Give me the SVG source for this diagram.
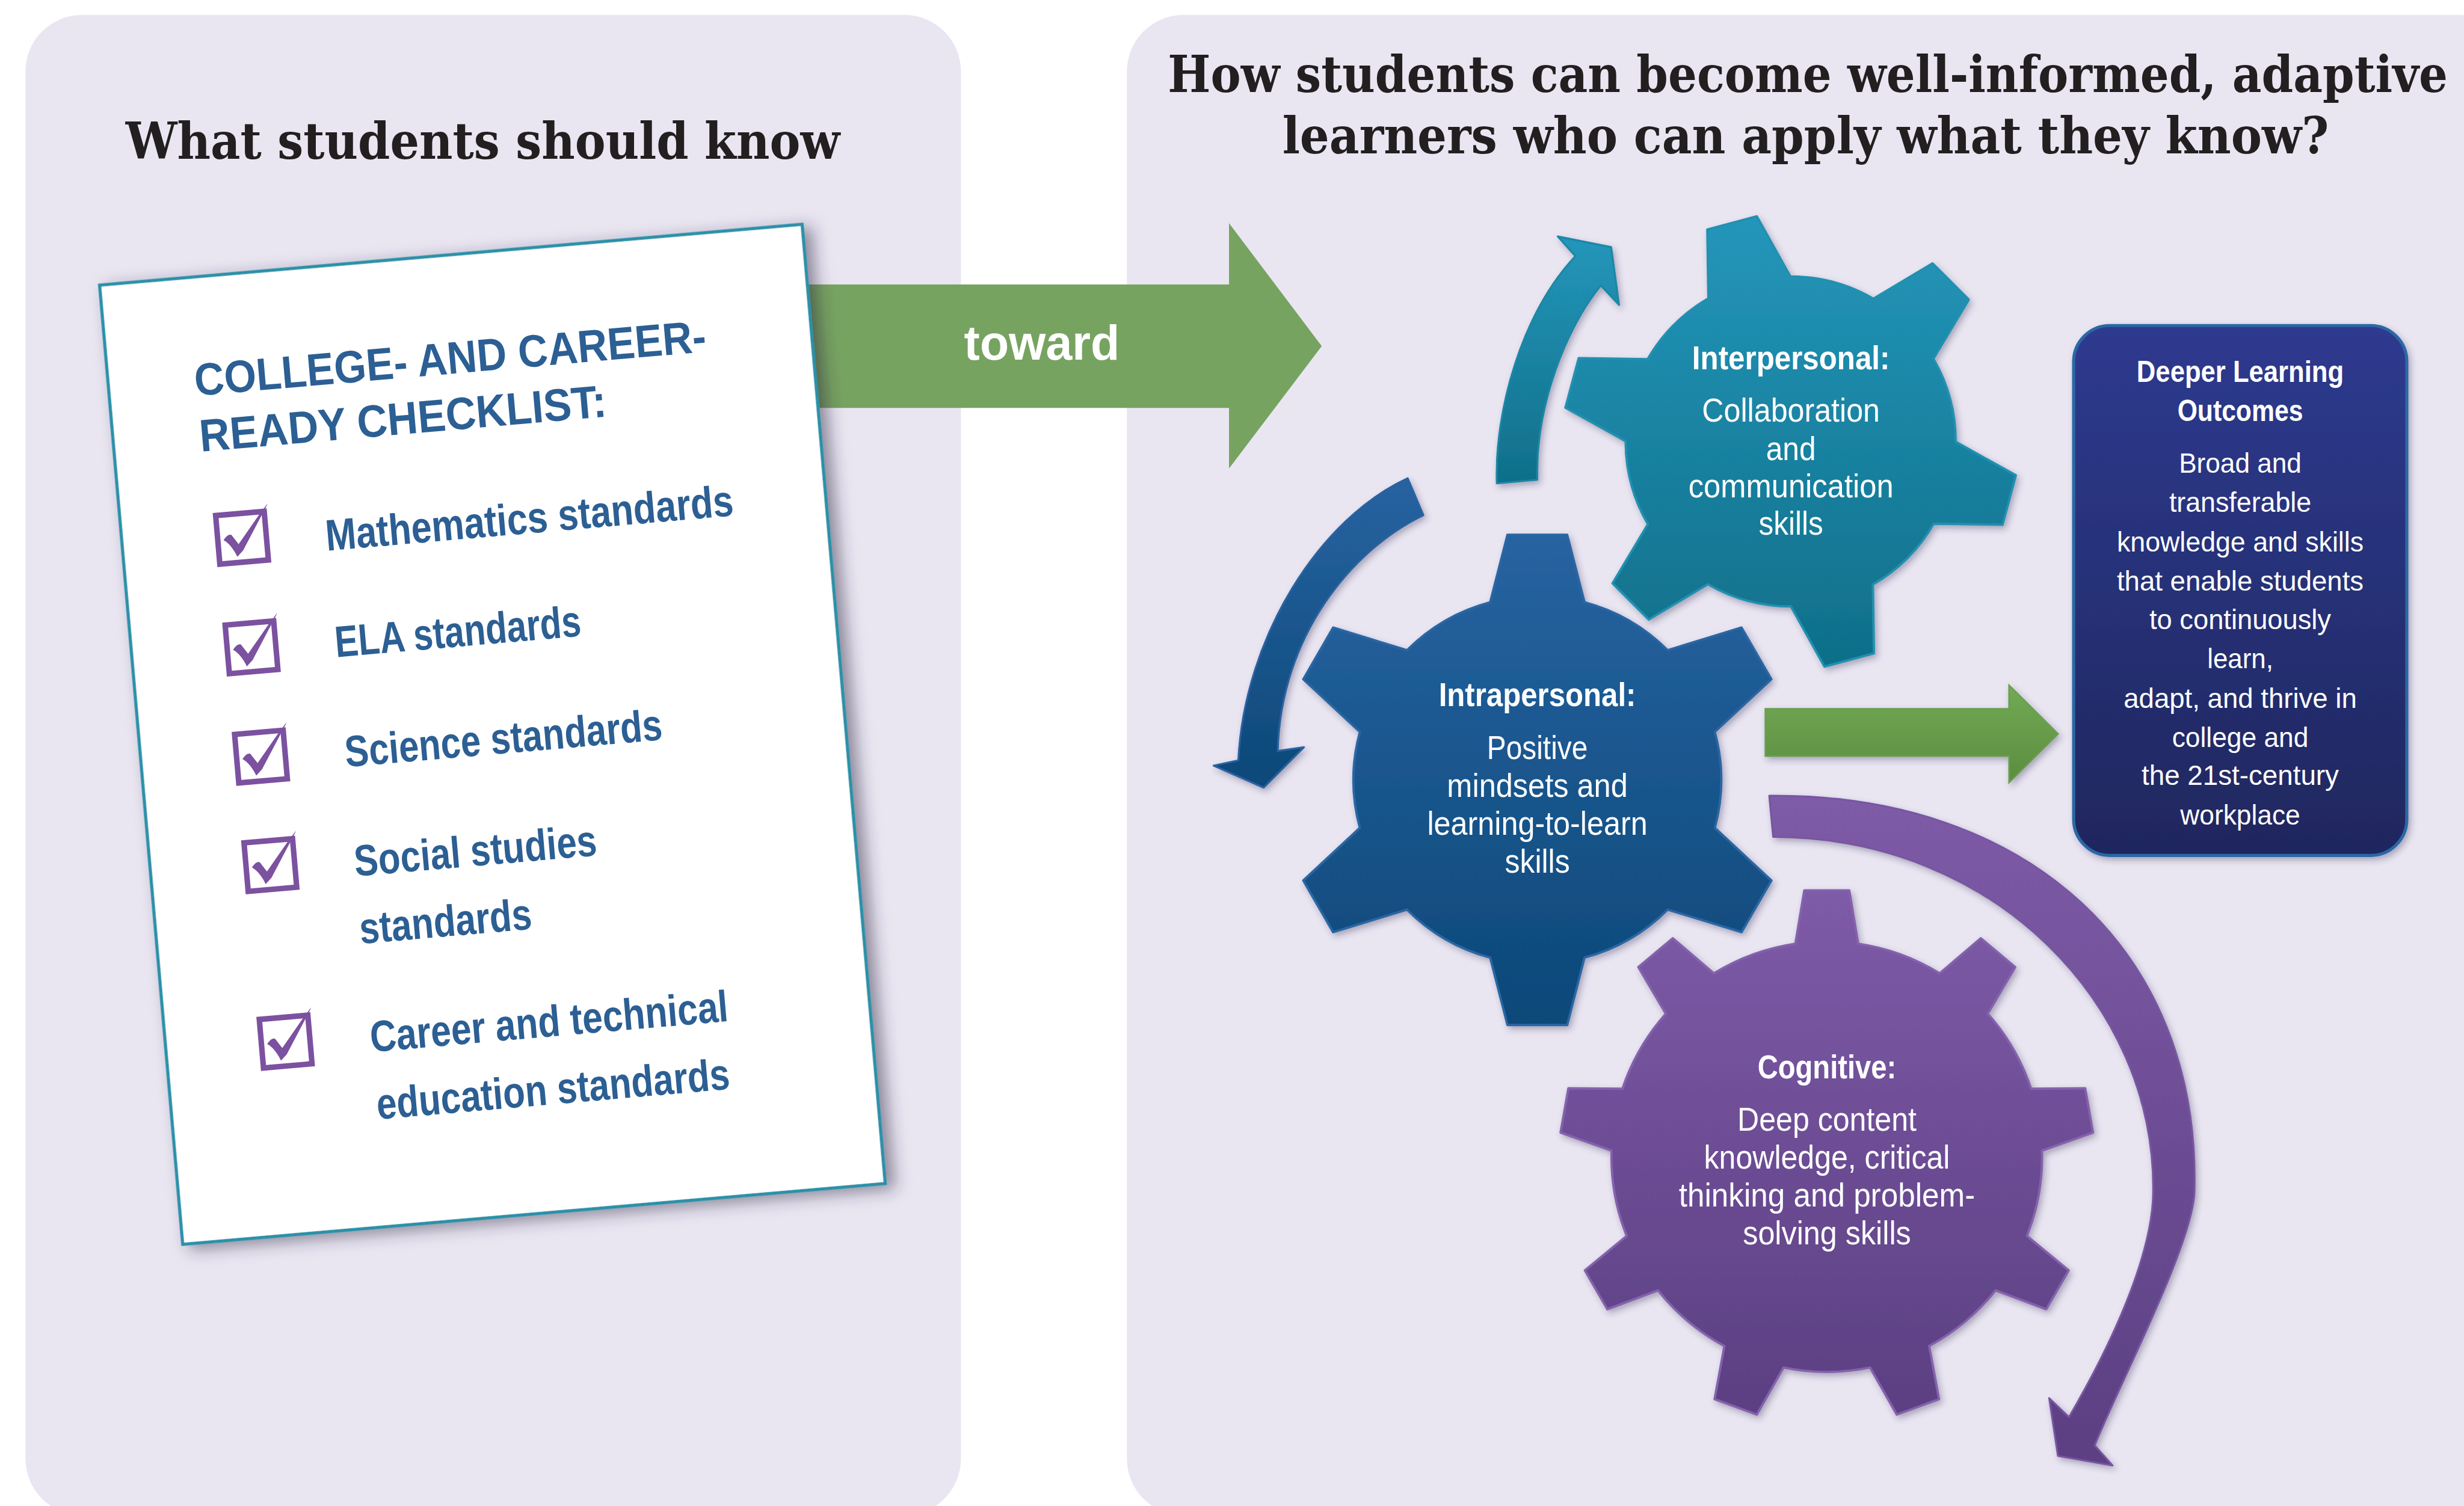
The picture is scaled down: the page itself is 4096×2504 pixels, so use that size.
<svg xmlns="http://www.w3.org/2000/svg" width="4096" height="2504" viewBox="0 0 4096 2504">
  <defs>
    <style>
      .panel { fill: #e9e6f2; }
      .ttl { font-family: "DejaVu Serif", "Liberation Serif", serif; font-weight: bold; font-size: 32.5px; fill: #231f20; text-anchor: middle; }
      .chk { font-family: "Liberation Sans", Arial, sans-serif; font-weight: bold; fill: #2c5f93; font-size: 28px; }
      .chkh { font-family: "Liberation Sans", Arial, sans-serif; font-weight: bold; fill: #2c5f93; font-size: 29px; }
      .box { fill: none; stroke: #7b51a0; stroke-width: 3.5px; }
      .tick { fill: #7b51a0; }
      .gh { font-family: "Liberation Sans Narrow", "Liberation Sans", Arial, sans-serif; font-weight: bold; fill: #ffffff; font-size: 21px; text-anchor: middle; }
      .gt { font-family: "Liberation Sans Narrow", "Liberation Sans", Arial, sans-serif; fill: #ffffff; font-size: 21px; text-anchor: middle; }
      .dh { font-family: "Liberation Sans Narrow", "Liberation Sans", Arial, sans-serif; font-weight: bold; fill: #ffffff; font-size: 19px; text-anchor: middle; }
      .dt { font-family: "Liberation Sans", Arial, sans-serif; fill: #ffffff; font-size: 18px; text-anchor: middle; }
      .toward { font-family: "Liberation Sans", Arial, sans-serif; font-weight: bold; fill: #ffffff; font-size: 31px; text-anchor: middle; }
    </style>
    <linearGradient id="gTeal" x1="0" y1="0" x2="0" y2="1">
      <stop offset="0" stop-color="#2496ba"/>
      <stop offset="1" stop-color="#0f6f89"/>
    </linearGradient>
    <linearGradient id="gBlue" x1="0" y1="0" x2="0" y2="1">
      <stop offset="0" stop-color="#2763a1"/>
      <stop offset="1" stop-color="#0c4878"/>
    </linearGradient>
    <linearGradient id="gPurple" x1="0" y1="0" x2="0" y2="1">
      <stop offset="0" stop-color="#7e5ba7"/>
      <stop offset="1" stop-color="#5b3f82"/>
    </linearGradient>
    <linearGradient id="gGreen" x1="0" y1="0" x2="0" y2="1">
      <stop offset="0" stop-color="#72aa55"/>
      <stop offset="1" stop-color="#5c8c3f"/>
    </linearGradient>
    <linearGradient id="gNavy" x1="0" y1="0" x2="0" y2="1">
      <stop offset="0" stop-color="#2e3a8f"/>
      <stop offset="1" stop-color="#1f275e"/>
    </linearGradient>
    <filter id="paperShadow" x="-10%" y="-10%" width="130%" height="130%">
      <feDropShadow dx="5" dy="3" stdDeviation="5" flood-color="#2e2840" flood-opacity="0.5"/>
    </filter>
    <filter id="soft" x="-10%" y="-10%" width="130%" height="130%">
      <feDropShadow dx="1.5" dy="2" stdDeviation="2" flood-color="#302850" flood-opacity="0.35"/>
    </filter>
    <g id="checkbox">
      <rect class="box" x="-15.5" y="-15.5" width="31" height="31"/>
      <path class="tick" d="M -11.8,0.6 C -10,-2 -8,-3 -6.6,-2.4 L -2.5,3.9 L 11.8,-13.3 L 18.1,-20.4 L 17.4,-19 L 0,8.1 L -4,11.8 C -5.5,8 -8,3 -11.8,0.6 Z"/>
    </g>
  </defs>

  <rect width="4096" height="2504" fill="#ffffff"/>

  <g transform="scale(2.612245)">
    <!-- background panels -->
    <rect id="panel-left" class="panel" x="16.2" y="9.5" width="595.3" height="955" rx="36" ry="36"/>
    <rect id="panel-right" class="panel" x="717.1" y="9.5" width="883" height="955" rx="36" ry="36"/>

    <!-- headings, set in a horizontally narrowed serif -->
    <g transform="scale(0.78,1)">
      <text id="title-left" class="ttl" x="393.85" y="101" textLength="582.7" lengthAdjust="spacingAndGlyphs">What students should know</text>
      <g id="title-right">
        <text class="ttl" x="1474.87" y="58.4" textLength="1044.2" lengthAdjust="spacingAndGlyphs">How students can become well-informed, adaptive</text>
        <text class="ttl" x="1473.08" y="97.6" textLength="853.8" lengthAdjust="spacingAndGlyphs">learners who can apply what they know?</text>
      </g>
    </g>

    <!-- connectors -->
    <g id="connectors">
      <g id="arrow-toward">
        <path d="M 500,181.1 H 782.1 V 142 L 841.1,220.3 L 782.1,298.2 V 259.6 H 500 Z" fill="#77a361"/>
        <text class="toward" x="663" y="228.9" textLength="99" lengthAdjust="spacingAndGlyphs">toward</text>
      </g>
      <path id="arrow-teal" filter="url(#soft)" fill="url(#gTeal)" stroke="#1c87a6" stroke-width="1.2" stroke-linejoin="round"
        d="M 952.5,307.7 C 951,262 968,200 1002.5,163 L 991.3,150.5 L 1025.3,157.3 L 1030.3,194.1 L 1018.7,181.7 C 997,208 977,258 978.3,305.4 Z"/>
      <path id="arrow-blue" filter="url(#soft)" fill="url(#gBlue)" stroke="#2a62a0" stroke-width="1.2" stroke-linejoin="round"
        d="M 895.8,304.4 C 840,330 792,405 788,484 L 772.3,487.3 L 804.1,501.3 L 829.8,475.6 L 813.1,478 C 815,405 860,350 905.8,327.9 Z"/>
      <path id="arrow-purple" filter="url(#soft)" fill="url(#gPurple)" stroke="#7857a2" stroke-width="1.2" stroke-linejoin="round"
        d="M 1125.9,506.5 C 1290,505 1400,605 1396.5,757.3 C 1396.5,790 1349,880 1333,920 L 1344.4,932.8 L 1309.6,926.7 L 1304,889.9 L 1316.6,902 C 1347,850 1370.5,795 1370.2,757.3 C 1371,640 1270,533 1128.4,532.7 Z"/>
      <path id="arrow-green" filter="url(#soft)" fill="url(#gGreen)" stroke="#6a9f4f" stroke-width="1"
        d="M 1123.4,451.2 H 1278.5 V 436.2 L 1309.7,467.1 L 1278.5,498.1 V 481.3 H 1123.4 Z"/>
    </g>

    <!-- checklist sheet -->
    <g id="checklist" transform="translate(63.4,181.5) rotate(-4.95)">
      <rect x="0" y="0" width="448.7" height="612.8" fill="#ffffff" stroke="#2990a8" stroke-width="2" filter="url(#paperShadow)"/>
      <text class="chkh" x="54.8" y="75.5" textLength="326.7" lengthAdjust="spacingAndGlyphs">COLLEGE- AND CAREER-</text>
      <text class="chkh" x="55" y="111.2" textLength="259.8" lengthAdjust="spacingAndGlyphs">READY CHECKLIST:</text>
      <use href="#checkbox" x="76.4" y="168"/>
      <use href="#checkbox" x="76.4" y="238"/>
      <use href="#checkbox" x="76.4" y="307.8"/>
      <use href="#checkbox" x="76.4" y="377.1"/>
      <use href="#checkbox" x="76.4" y="489.9"/>
      <text class="chk" x="129.4" y="180.9" textLength="260.4" lengthAdjust="spacingAndGlyphs">Mathematics standards</text>
      <text class="chk" x="129.5" y="248.9" textLength="157.1" lengthAdjust="spacingAndGlyphs">ELA standards</text>
      <text class="chk" x="129.8" y="319.1" textLength="202.6" lengthAdjust="spacingAndGlyphs">Science standards</text>
      <text class="chk" x="129.7" y="388.9" textLength="154.9" lengthAdjust="spacingAndGlyphs">Social studies</text>
      <text class="chk" x="129.3" y="432" textLength="110" lengthAdjust="spacingAndGlyphs">standards</text>
      <text class="chk" x="130.1" y="501.2" textLength="228.6" lengthAdjust="spacingAndGlyphs">Career and technical</text>
      <text class="chk" x="130.5" y="544.3" textLength="225.5" lengthAdjust="spacingAndGlyphs">education standards</text>
    </g>

    <!-- interpersonal gear -->
    <g id="gear-interpersonal">
      <path transform="translate(1139.5,281)" filter="url(#soft)" fill="url(#gTeal)" stroke="#2190b0" stroke-width="1.5" stroke-linejoin="round"
        d="M 105,0.2 L 143.31,21.53 L 134.87,53.01 L 91.02,52.34 A 105 105 0 0 1 52.34,91.02 L 53.01,134.87 L 21.53,143.31 L 0.18,105 A 105 105 0 0 1 -52.66,90.84 L -90.29,113.35 L -113.35,90.29 L -90.84,52.66 A 105 105 0 0 1 -105,-0.18 L -143.31,-21.53 L -134.87,-53.01 L -91.02,-52.34 A 105 105 0 0 1 -52.34,-91.02 L -53.01,-134.87 L -21.53,-143.31 L -0.18,-105 A 105 105 0 0 1 52.66,-90.84 L 90.29,-113.35 L 113.35,-90.29 L 90.84,-52.66 A 105 105 0 0 1 105,0.2 Z"/>
      <text class="gh" x="1139.7" y="235" textLength="125.8" lengthAdjust="spacingAndGlyphs">Interpersonal:</text>
      <text class="gt" x="1139.7" y="268.4" textLength="113.2" lengthAdjust="spacingAndGlyphs">Collaboration</text>
      <text class="gt" x="1139.7" y="292.7" textLength="31.7" lengthAdjust="spacingAndGlyphs">and</text>
      <text class="gt" x="1139.7" y="316.7" textLength="130.5" lengthAdjust="spacingAndGlyphs">communication</text>
      <text class="gt" x="1139.7" y="340.4" textLength="41" lengthAdjust="spacingAndGlyphs">skills</text>
    </g>

    <!-- intrapersonal gear -->
    <g id="gear-intrapersonal">
      <path transform="translate(978.3,496.4)" filter="url(#soft)" fill="url(#gBlue)" stroke="#2b66a3" stroke-width="1.5" stroke-linejoin="round"
        d="M -30,-113.1 L -19,-156 L 19,-156 L 30,-113.1 A 117 117 0 0 1 82.93,-82.53 L 129.93,-96.95 L 148.93,-64.05 L 112.94,-30.56 A 117 117 0 0 1 112.94,30.56 L 148.93,64.05 L 129.93,96.95 L 82.93,82.53 A 117 117 0 0 1 30,113.1 L 19,156 L -19,156 L -30,113.1 A 117 117 0 0 1 -82.93,82.53 L -129.93,96.95 L -148.93,64.05 L -112.94,30.56 A 117 117 0 0 1 -112.94,-30.56 L -148.93,-64.05 L -129.93,-96.95 L -82.93,-82.53 A 117 117 0 0 1 -30,-113.1 Z"/>
      <text class="gh" x="978.3" y="449.6" textLength="125.5" lengthAdjust="spacingAndGlyphs">Intrapersonal:</text>
      <text class="gt" x="978.3" y="483" textLength="64.1" lengthAdjust="spacingAndGlyphs">Positive</text>
      <text class="gt" x="978.3" y="507.3" textLength="115" lengthAdjust="spacingAndGlyphs">mindsets and</text>
      <text class="gt" x="978.3" y="531.4" textLength="140.2" lengthAdjust="spacingAndGlyphs">learning-to-learn</text>
      <text class="gt" x="978.3" y="555.4" textLength="41.4" lengthAdjust="spacingAndGlyphs">skills</text>
    </g>

    <!-- cognitive gear -->
    <g id="gear-cognitive">
      <path transform="translate(1162.5,736.2)" filter="url(#soft)" fill="url(#gPurple)" stroke="#8462ad" stroke-width="1.5" stroke-linejoin="round"
        d="M -20,-135.53 L -14.3,-169.5 L 14.3,-169.5 L 20,-135.53 A 137 137 0 0 1 71.84,-116.65 L 98,-139.03 L 119.9,-120.65 L 102.42,-90.99 A 137 137 0 0 1 130,-43.23 L 164.45,-43.51 L 169.41,-15.35 L 136.95,-3.84 A 137 137 0 0 1 127.37,50.45 L 153.94,72.37 L 139.64,97.13 L 107.37,85.1 A 137 137 0 0 1 65.15,120.52 L 71.41,154.39 L 44.53,164.17 L 27.56,134.2 A 137 137 0 0 1 -27.56,134.2 L -44.53,164.17 L -71.41,154.39 L -65.15,120.52 A 137 137 0 0 1 -107.37,85.1 L -139.64,97.13 L -153.94,72.37 L -127.37,50.45 A 137 137 0 0 1 -136.95,-3.84 L -169.41,-15.35 L -164.45,-43.51 L -130,-43.23 A 137 137 0 0 1 -102.42,-90.99 L -119.9,-120.65 L -98,-139.03 L -71.84,-116.65 A 137 137 0 0 1 -20,-135.53 Z"/>
      <text class="gh" x="1162.6" y="686.5" textLength="88.3" lengthAdjust="spacingAndGlyphs">Cognitive:</text>
      <text class="gt" x="1162.6" y="719.6" textLength="114" lengthAdjust="spacingAndGlyphs">Deep content</text>
      <text class="gt" x="1162.6" y="743.7" textLength="156.5" lengthAdjust="spacingAndGlyphs">knowledge, critical</text>
      <text class="gt" x="1162.6" y="767.9" textLength="188.5" lengthAdjust="spacingAndGlyphs">thinking and problem-</text>
      <text class="gt" x="1162.6" y="792" textLength="107" lengthAdjust="spacingAndGlyphs">solving skills</text>
    </g>

    <!-- outcomes box -->
    <g id="deeper-learning">
      <rect x="1319.6" y="207.2" width="212" height="337.3" rx="23" ry="23" fill="url(#gNavy)" stroke="#2a68a5" stroke-width="2" filter="url(#soft)"/>
      <text class="dh" x="1425.6" y="243" textLength="131.8" lengthAdjust="spacingAndGlyphs">Deeper Learning</text>
      <text class="dh" x="1425.6" y="268" textLength="79.9" lengthAdjust="spacingAndGlyphs">Outcomes</text>
      <text class="dt" x="1425.6" y="300.9" textLength="78" lengthAdjust="spacingAndGlyphs">Broad and</text>
      <text class="dt" x="1425.6" y="325.9" textLength="90.4" lengthAdjust="spacingAndGlyphs">transferable</text>
      <text class="dt" x="1425.6" y="351" textLength="157" lengthAdjust="spacingAndGlyphs">knowledge and skills</text>
      <text class="dt" x="1425.6" y="376" textLength="157" lengthAdjust="spacingAndGlyphs">that enable students</text>
      <text class="dt" x="1425.6" y="400.3" textLength="115.6" lengthAdjust="spacingAndGlyphs">to continuously</text>
      <text class="dt" x="1425.6" y="425.4" textLength="42" lengthAdjust="spacingAndGlyphs">learn,</text>
      <text class="dt" x="1425.6" y="450.4" textLength="148.4" lengthAdjust="spacingAndGlyphs">adapt, and thrive in</text>
      <text class="dt" x="1425.6" y="475.4" textLength="86.8" lengthAdjust="spacingAndGlyphs">college and</text>
      <text class="dt" x="1425.6" y="499.7" textLength="125.5" lengthAdjust="spacingAndGlyphs">the 21st-century</text>
      <text class="dt" x="1425.6" y="525" textLength="76.3" lengthAdjust="spacingAndGlyphs">workplace</text>
    </g>
  </g>
</svg>
